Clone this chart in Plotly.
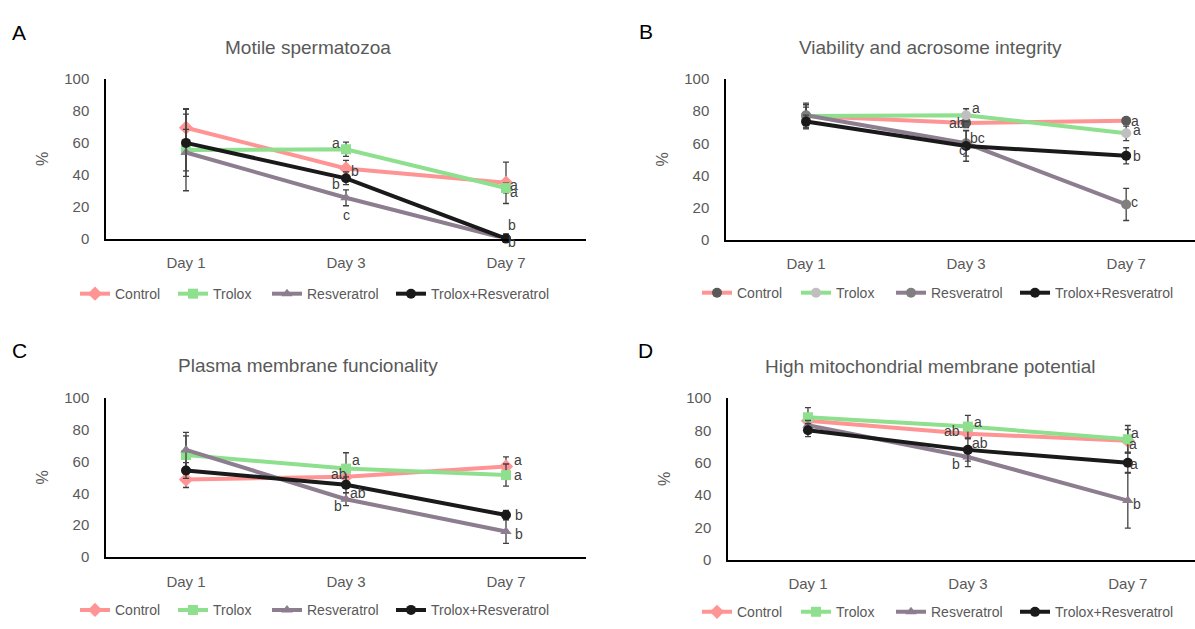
import plotly.graph_objects as go

# ---------------- data ----------------
days = ["Day 1", "Day 3", "Day 7"]
series_names = ["Control", "Trolox", "Resveratrol", "Trolox+Resveratrol"]

# Panel A - Motile spermatozoa
a_control = [69.5, 44.0, 35.0]
a_trolox = [55.5, 56.0, 31.7]
a_resv = [54.0, 25.6, 0.0]
a_combo = [60.0, 37.8, 0.0]
a_control_err = [12, 5, 13]
a_trolox_err = [13, 4.5, 3]
a_resv_err = [24, 5, 0]
a_combo_err = [21, 4, 3]
a_control_let = ["", "b", "a"]
a_trolox_let = ["", "a", "a"]
a_resv_let = ["", "c", "b"]
a_combo_let = ["", "b", "b"]

# Panel B - Viability and acrosome integrity
b_control = [77.0, 72.7, 74.0]
b_trolox = [77.0, 77.5, 66.2]
b_resv = [77.5, 60.0, 21.9]
b_combo = [73.5, 58.3, 52.2]
b_control_err = [8, 3, 2]
b_trolox_err = [7, 4, 4.5]
b_resv_err = [5, 8, 10]
b_combo_err = [4, 9.5, 5]
b_control_let = ["", "ab", "a"]
b_trolox_let = ["", "a", "a"]
b_resv_let = ["", "c", "c"]
b_combo_let = ["", "bc", "b"]

# Panel C - Plasma membrane funcionality
c_control = [48.7, 50.5, 57.0]
c_trolox = [64.2, 55.6, 51.5]
c_resv = [67.4, 36.3, 15.9]
c_combo = [54.4, 45.4, 26.3]
c_control_err = [5, 3, 6]
c_trolox_err = [12, 10, 7]
c_resv_err = [11, 4, 7.5]
c_combo_err = [5, 5, 3]
c_control_let = ["", "ab", "a"]
c_trolox_let = ["", "a", "a"]
c_resv_let = ["", "b", "b"]
c_combo_let = ["", "ab", "b"]

# Panel D - High mitochondrial membrane potential
d_control = [86.0, 78.0, 73.6]
d_trolox = [88.2, 82.4, 74.6]
d_resv = [83.2, 63.6, 36.6]
d_combo = [80.2, 68.0, 60.0]
d_control_err = [4, 3, 7]
d_trolox_err = [6, 7, 8.5]
d_resv_err = [3, 6, 17]
d_combo_err = [4, 7, 6]
d_control_let = ["", "ab", "a"]
d_trolox_let = ["", "a", "a"]
d_resv_let = ["", "b", "b"]
d_combo_let = ["", "ab", "a"]

titles = ["Motile spermatozoa", "Viability and acrosome integrity",
          "Plasma membrane funcionality", "High mitochondrial membrane potential"]
panel_letters = ["A", "B", "C", "D"]
y_ticks = [0, 20, 40, 60, 80, 100]

# ---------------- styling ----------------
W, H = 1195, 629
FONT = "Liberation Sans Narrow, Liberation Sans, Arial, sans-serif"
TXT = "#595959"
line_colors = ["#FF9494", "#8EE08E", "#8C7D8F", "#1A1A1A"]
symbols = ["diamond", "square", "triangle-up", "circle"]
b_marker_colors = ["#595959", "#BFBFBF", "#7F7F7F", "#1A1A1A"]


def px_y(y):
    return 1 - y / H


def px_x(x):
    return x / W


# pixel layout of each panel: (x_left, x_right, y_top(100), y_bottom(0), xrange_max)
panels_px = [
    (106, 586, 72, 236, 2.5),
    (726, 1195, 72, 237, 2.43),
    (106, 586, 400, 563, 2.5),
    (728, 1195, 400, 566, 2.42),
]
title_px = [(308, 40), (930, 40), (308, 366), (930, 367)]
letter_px = [(19, 24), (646, 23), (19, 351), (645, 351)]
legend_row_y = [293, 292, 618, 620]
legend_item_x = [
    [75, 173, 267, 391],
    [697, 796, 891, 1015],
    [75, 173, 267, 391],
    [697, 796, 891, 1015],
]

# letter offsets (xshift, yshift) per panel / series / day
let_offsets = [
    [[(0, 0), (9, -3), (8, -2)], [(0, 0), (-10, 6), (8, -4)],
     [(0, 0), (0, -17), (6, 14)], [(0, 0), (-10, -6), (6, -3)]],
    [[(0, 0), (-9, 0), (9, 0)], [(0, 0), (10, 7), (11, 3)],
     [(0, 0), (-4, -7), (8, 2)], [(0, 0), (11, 8), (11, 0)]],
    [[(0, 0), (-7, 3), (12, 6)], [(0, 0), (10, 9), (12, 0)],
     [(0, 0), (-8, -7), (13, -2)], [(0, 0), (12, -8), (13, 0)]],
    [[(0, 0), (-16, 3), (5, -3)], [(0, 0), (10, 5), (7, 6)],
     [(0, 0), (-12, -7), (9, -3)], [(0, 0), (12, 7), (6, -1)]],
]

panel_data = [
    ([a_control, a_trolox, a_resv, a_combo],
     [a_control_err, a_trolox_err, a_resv_err, a_combo_err],
     [a_control_let, a_trolox_let, a_resv_let, a_combo_let]),
    ([b_control, b_trolox, b_resv, b_combo],
     [b_control_err, b_trolox_err, b_resv_err, b_combo_err],
     [b_control_let, b_trolox_let, b_resv_let, b_combo_let]),
    ([c_control, c_trolox, c_resv, c_combo],
     [c_control_err, c_trolox_err, c_resv_err, c_combo_err],
     [c_control_let, c_trolox_let, c_resv_let, c_combo_let]),
    ([d_control, d_trolox, d_resv, d_combo],
     [d_control_err, d_trolox_err, d_resv_err, d_combo_err],
     [d_control_let, d_trolox_let, d_resv_let, d_combo_let]),
]

fig = go.Figure()
annotations = []
layout_axes = {}
leg_no = 0

for p in range(4):
    vals, errs, lets = panel_data[p]
    xl, xr, yt, yb, xmax = panels_px[p]
    sfx = "" if p == 0 else str(p + 1)
    xa, ya = "x" + sfx, "y" + sfx
    for s in range(4):
        leg_no += 1
        leg = "legend" if leg_no == 1 else "legend" + str(leg_no)
        if p == 1:
            mcolor = b_marker_colors[s]
            msym = "circle"
            msize = 10
        else:
            mcolor = line_colors[s]
            msym = symbols[s]
            msize = 10 if s != 0 else 11
        fig.add_trace(go.Scatter(
            x=days, y=vals[s], name=series_names[s], mode="lines+markers",
            xaxis=xa, yaxis=ya, legend=leg,
            line=dict(color=line_colors[s], width=4),
            marker=dict(color=mcolor, symbol=msym, size=msize),
            error_y=dict(type="data", array=errs[s], visible=True,
                         color="#404040", thickness=1.3, width=3),
            cliponaxis=False,
        ))
        layout_axes[leg] = dict(
            orientation="h", x=px_x(legend_item_x[p][s]), y=px_y(legend_row_y[p]),
            xanchor="left", yanchor="middle", xref="paper", yref="paper",
            font=dict(family=FONT, size=14, color=TXT),
            bgcolor="rgba(0,0,0,0)", itemwidth=30,
        )
        for d in range(3):
            if lets[s][d]:
                dx, dy = let_offsets[p][s][d]
                annotations.append(dict(
                    x=days[d], y=vals[s][d], xref=xa, yref=ya,
                    text=lets[s][d], showarrow=False,
                    xshift=dx, yshift=dy,
                    font=dict(family=FONT, size=14, color="#404040"),
                ))
    layout_axes["xaxis" + sfx] = dict(
        domain=[px_x(xl), px_x(xr)], anchor=ya, type="category", range=[-0.5, xmax],
        showline=True, linecolor="#000000", linewidth=1.5,
        showgrid=False, zeroline=False,
        ticks="outside", ticklen=10, tickcolor="rgba(0,0,0,0)",
        tickfont=dict(family=FONT, size=15, color=TXT),
    )
    layout_axes["yaxis" + sfx] = dict(
        domain=[px_y(yb), px_y(yt)], anchor=xa, range=[0, 100], tickvals=y_ticks,
        showline=True, linecolor="#000000", linewidth=1.5,
        showgrid=False, zeroline=False,
        ticks="outside", ticklen=12, tickcolor="rgba(0,0,0,0)",
        tickfont=dict(family=FONT, size=15, color=TXT),
        title=dict(text="%", font=dict(family=FONT, size=16, color=TXT), standoff=12),
    )
    tx, ty = title_px[p]
    annotations.append(dict(
        x=px_x(tx), y=px_y(ty), xref="paper", yref="paper", text=titles[p],
        showarrow=False, xanchor="center", yanchor="middle",
        font=dict(family=FONT, size=19, color=TXT),
    ))
    lxp, lyp = letter_px[p]
    annotations.append(dict(
        x=px_x(lxp), y=px_y(lyp), xref="paper", yref="paper", text=panel_letters[p],
        showarrow=False, xanchor="center", yanchor="middle",
        font=dict(family=FONT, size=21, color="#000000"),
    ))

fig.update_layout(
    width=W, height=H, margin=dict(l=0, r=0, t=0, b=0),
    paper_bgcolor="white", plot_bgcolor="white",
    showlegend=True, annotations=annotations,
    font=dict(family=FONT, color=TXT),
    **layout_axes,
)

fig.write_html(
    "out.html",
    config={"displayModeBar": False},
    post_script=(
        "var h=document.documentElement,b=document.body;"
        "h.style.margin='0';h.style.padding='0';h.style.overflow='hidden';h.style.height='629px';"
        "b.style.margin='0';b.style.padding='0';b.style.overflow='hidden';b.style.height='629px';"
    ),
)
